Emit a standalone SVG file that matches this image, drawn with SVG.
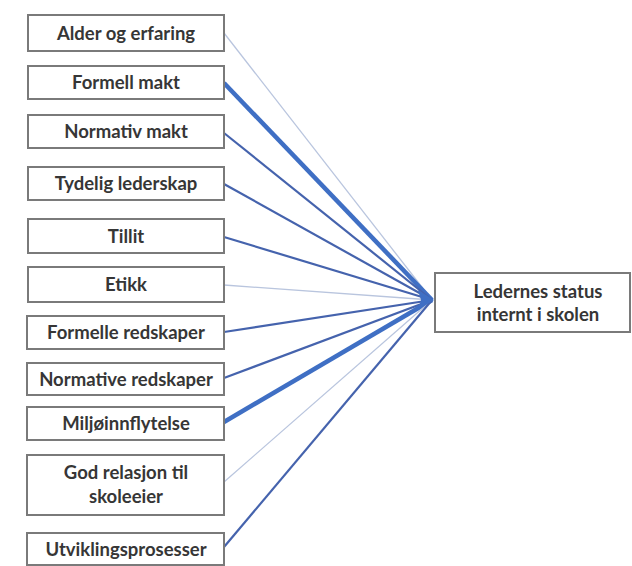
<svg xmlns="http://www.w3.org/2000/svg" width="632" height="566" viewBox="0 0 632 566">
  <style>
    .box { fill: #ffffff; stroke: #7a7a7a; stroke-width: 2; }
    .lbl { font-family: Lato, "Liberation Sans", sans-serif; font-weight: bold; font-size: 18.5px; fill: #363636; text-anchor: middle; }
    .strong { stroke: #3f6fc4; stroke-width: 4.5; fill: none; }
    .mid { stroke: #4563ad; stroke-width: 2.2; fill: none; }
    .weak { stroke: #b9c5de; stroke-width: 1.3; fill: none; }
  </style>
  <rect x="0" y="0" width="632" height="566" fill="#ffffff"/>

  <g id="connectors">
    <line class="weak" x1="224" y1="33" x2="432" y2="300"/>
    <line class="strong" x1="224" y1="83" x2="432" y2="300"/>
    <line class="mid" x1="224" y1="133" x2="432" y2="300"/>
    <line class="mid" x1="224" y1="184" x2="432" y2="300"/>
    <line class="mid" x1="224" y1="237" x2="432" y2="300"/>
    <line class="weak" x1="224" y1="285" x2="432" y2="300"/>
    <line class="mid" x1="224" y1="332" x2="432" y2="300"/>
    <line class="mid" x1="224" y1="378" x2="432" y2="300"/>
    <line class="strong" x1="224" y1="422" x2="432" y2="300"/>
    <line class="weak" x1="224" y1="482" x2="432" y2="300"/>
    <line class="mid" x1="224" y1="547" x2="432" y2="300"/>
    <polygon points="434,300 418,290 421,300 418,310" fill="#3f6fc4"/>
  </g>

  <g id="n-alder">
    <rect class="box" x="28" y="15" width="196" height="36"/>
    <text class="lbl" x="126" y="40">Alder og erfaring</text>
  </g>
  <g id="n-formell-makt">
    <rect class="box" x="28" y="66" width="196" height="33"/>
    <text class="lbl" x="126" y="89">Formell makt</text>
  </g>
  <g id="n-normativ-makt">
    <rect class="box" x="28" y="115" width="196" height="33"/>
    <text class="lbl" x="126" y="138">Normativ makt</text>
  </g>
  <g id="n-tydelig">
    <rect class="box" x="28" y="167" width="196" height="33"/>
    <text class="lbl" x="126" y="190">Tydelig lederskap</text>
  </g>
  <g id="n-tillit">
    <rect class="box" x="28" y="219" width="196" height="34"/>
    <text class="lbl" x="126" y="243">Tillit</text>
  </g>
  <g id="n-etikk">
    <rect class="box" x="28" y="267" width="196" height="35"/>
    <text class="lbl" x="126" y="291">Etikk</text>
  </g>
  <g id="n-formelle-redskaper">
    <rect class="box" x="27" y="316" width="197" height="33"/>
    <text class="lbl" x="126" y="339">Formelle redskaper</text>
  </g>
  <g id="n-normative-redskaper">
    <rect class="box" x="27" y="363" width="197" height="32"/>
    <text class="lbl" x="126" y="386">Normative redskaper</text>
  </g>
  <g id="n-miljo">
    <rect class="box" x="27" y="407" width="197" height="33"/>
    <text class="lbl" x="126" y="430">Miljøinnflytelse</text>
  </g>
  <g id="n-skoleeier">
    <rect class="box" x="27" y="455" width="197" height="60"/>
    <text class="lbl" x="126" y="479">God relasjon til</text>
    <text class="lbl" x="126" y="503">skoleeier</text>
  </g>
  <g id="n-utvikling">
    <rect class="box" x="27" y="533" width="197" height="32"/>
    <text class="lbl" x="126" y="556">Utviklingsprosesser</text>
  </g>

  <g id="n-status">
    <rect class="box" x="435" y="273" width="195" height="59"/>
    <text class="lbl" x="538" y="298">Ledernes status</text>
    <text class="lbl" x="538" y="321">internt i skolen</text>
  </g>
</svg>
